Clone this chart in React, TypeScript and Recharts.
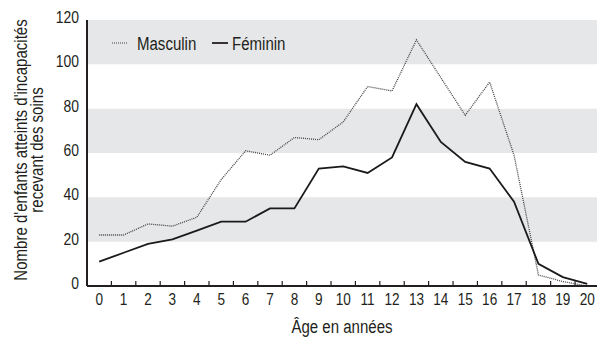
import React from 'react';
import { LineChart, Line, XAxis, YAxis, ReferenceArea, Label } from 'recharts';

const ages = [0, 1, 2, 3, 4, 5, 6, 7, 8, 9, 10, 11, 12, 13, 14, 15, 16, 17, 18, 19, 20];
const masculin = [23, 23, 28, 27, 31, 48, 61, 59, 67, 66, 74, 90, 88, 111, 94, 77, 92, 59, 5, 2, 0];
const feminin = [11, 15, 19, 21, 25, 29, 29, 35, 35, 53, 54, 51, 58, 82, 65, 56, 53, 38, 10, 4, 1];
const yTicks = [0, 20, 40, 60, 80, 100, 120];
const bands: [number, number][] = [[20, 40], [60, 80], [100, 120]];
const seriesNames = { m: 'Masculin', f: 'Féminin' };
const yTitle = ["Nombre d'enfants atteints d'incapacités", 'recevant des soins'];
const xTitle = 'Âge en années';

const data = ages.map((a, i) => ({ age: a, m: masculin[i], f: feminin[i] }));
const xTicks = [...ages, ...ages.slice(0, ages.length - 1).map((a) => a + 0.5)];

const FONT = '"Liberation Sans", Arial, sans-serif';
const INK = '#231f20';
const BAND = '#e6e7e8';

const CText = ({ x, y, anchor = 'start', rot = 0, size = 18, sx = 0.835, children }: any) => (
  <text
    transform={`translate(${x},${y}) rotate(${rot}) scale(${sx},1)`}
    textAnchor={anchor}
    fontSize={size}
    fontFamily={FONT}
    fill={INK}
  >
    {children}
  </text>
);

const XTick = (props: any) => {
  const { x, y, payload } = props;
  const v = payload.value;
  if (Number.isInteger(v)) {
    return <CText x={x} y={y + 19} anchor="middle" size={17} sx={0.8}>{v}</CText>;
  }
  return <line x1={x} x2={x} y1={y} y2={y - 5} stroke={INK} strokeWidth={1.2} />;
};

const YTick = (props: any) => {
  const { x, y, payload } = props;
  return <CText x={x} y={y + 3} anchor="end" size={17} sx={0.82}>{payload.value}</CText>;
};

const LegendBox = () => (
  <svg width={180} height={20} style={{ position: 'absolute', left: 112, top: 33, display: 'block' }}>
    <line x1={0} x2={16} y1={10} y2={10} stroke="#444" strokeWidth={1.2} strokeDasharray="1 1" />
    <CText x={25} y={16.5}>{seriesNames.m}</CText>
    <line x1={100} x2={116} y1={10} y2={10} stroke={INK} strokeWidth={1.8} />
    <CText x={120} y={16.5}>{seriesNames.f}</CText>
  </svg>
);

export default function App() {
  return (
    <div style={{ position: 'absolute', left: 0, top: 0, width: 597, height: 347, background: '#fff' }}>
      <LineChart width={597} height={347} data={data} margin={{ top: 20, right: 0, bottom: 0, left: 0 }}>
        {bands.map(([a, b]) => (
          <ReferenceArea key={a} y1={a} y2={b} fill={BAND} fillOpacity={1} stroke="none" ifOverflow="visible" />
        ))}
        <XAxis
          dataKey="age"
          type="number"
          domain={[-0.5, 20.4]}
          ticks={xTicks}
          interval={0}
          tickLine={false}
          tickSize={0}
          tickMargin={0}
          tick={<XTick />}
          height={61}
          axisLine={{ stroke: INK, strokeWidth: 2 }}
        >
          <Label
            content={(p: any) => {
              const vb = p.viewBox;
              return <CText x={vb.x + vb.width / 2} y={vb.y + 47} anchor="middle">{xTitle}</CText>;
            }}
          />
        </XAxis>
        <YAxis
          type="number"
          domain={[0, 120]}
          ticks={yTicks}
          width={87}
          tickLine={false}
          tickSize={0}
          tickMargin={8}
          tick={<YTick />}
          axisLine={{ stroke: INK, strokeWidth: 2 }}
        >
          <Label
            content={(p: any) => {
              const vb = p.viewBox;
              const cy = vb.y + vb.height / 2 - 3;
              return (
                <g>
                  {yTitle.map((t, i) => (
                    <CText key={i} x={27 + i * 16} y={cy} anchor="middle" rot={-90}>
                      {t}
                    </CText>
                  ))}
                </g>
              );
            }}
          />
        </YAxis>
        <Line dataKey="m" type="linear" stroke="#444" strokeWidth={1.3} strokeDasharray="1 1" dot={false} isAnimationActive={false} />
        <Line dataKey="f" type="linear" stroke="#1a1a1a" strokeWidth={1.8} dot={false} isAnimationActive={false} />
      </LineChart>
      <LegendBox />
    </div>
  );
}
